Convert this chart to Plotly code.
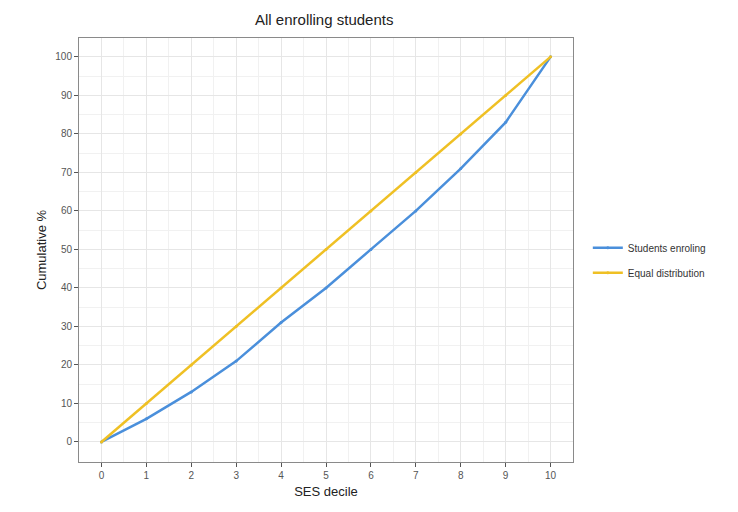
import plotly.graph_objects as go

# data
deciles = [0, 1, 2, 3, 4, 5, 6, 7, 8, 9, 10]
students_enroling = [0, 6, 13, 21, 31, 40, 50, 60, 71, 83, 100]
equal_distribution = [0, 10, 20, 30, 40, 50, 60, 70, 80, 90, 100]

blue = "#4a8fdb"
gold = "#efc024"

fig = go.Figure()
fig.add_trace(go.Scatter(x=deciles, y=students_enroling,
                         name="Students enroling", legendgroup="a",
                         mode="lines+markers",
                         line=dict(color=blue, width=2.5),
                         marker=dict(color=blue, size=3)))
fig.add_trace(go.Scatter(x=deciles, y=equal_distribution,
                         name="Equal distribution", legendgroup="b",
                         mode="lines+markers",
                         line=dict(color=gold, width=2.5),
                         marker=dict(color=gold, size=3)))

axis_style = dict(
    showline=True, linecolor="#8a8a8a", linewidth=1, mirror=True,
    ticks="outside", ticklen=4, tickcolor="#555555",
    tickfont=dict(size=10, color="#555555"),
    showgrid=True, gridcolor="#e6e6e6", gridwidth=1,
    zeroline=False,
)

fig.update_xaxes(range=[-0.5, 10.5], tickmode="array", tickvals=deciles,
                 minor=dict(tickmode="linear", tick0=0.5, dtick=1,
                            showgrid=True, gridcolor="#f1f1f1", ticks=""),
                 title=dict(text="SES decile", font=dict(size=13, color="#222222"),
                            standoff=6),
                 **axis_style)
fig.update_yaxes(range=[-5.2, 104.9], tickmode="array",
                 tickvals=list(range(0, 101, 10)),
                 minor=dict(tickmode="linear", tick0=5, dtick=10,
                            showgrid=True, gridcolor="#f1f1f1", ticks=""),
                 title=dict(text="Cumulative %", font=dict(size=13, color="#222222"),
                            standoff=5),
                 **axis_style)

fig.update_layout(
    width=738, height=512,
    margin=dict(l=71, r=173, t=30, b=58),
    paper_bgcolor="white", plot_bgcolor="white",
    font=dict(family="Liberation Sans, Arial, sans-serif"),
    title=dict(text="All enrolling students", x=0.4285, xanchor="center",
               y=0.978, yanchor="middle",
               font=dict(size=15, color="#222222")),
    legend=dict(x=1.03, y=0.476, xanchor="left", yanchor="middle",
                font=dict(size=10, color="#333333"),
                itemwidth=30, tracegroupgap=6),
    showlegend=True,
)

fig.write_html("out.html")
